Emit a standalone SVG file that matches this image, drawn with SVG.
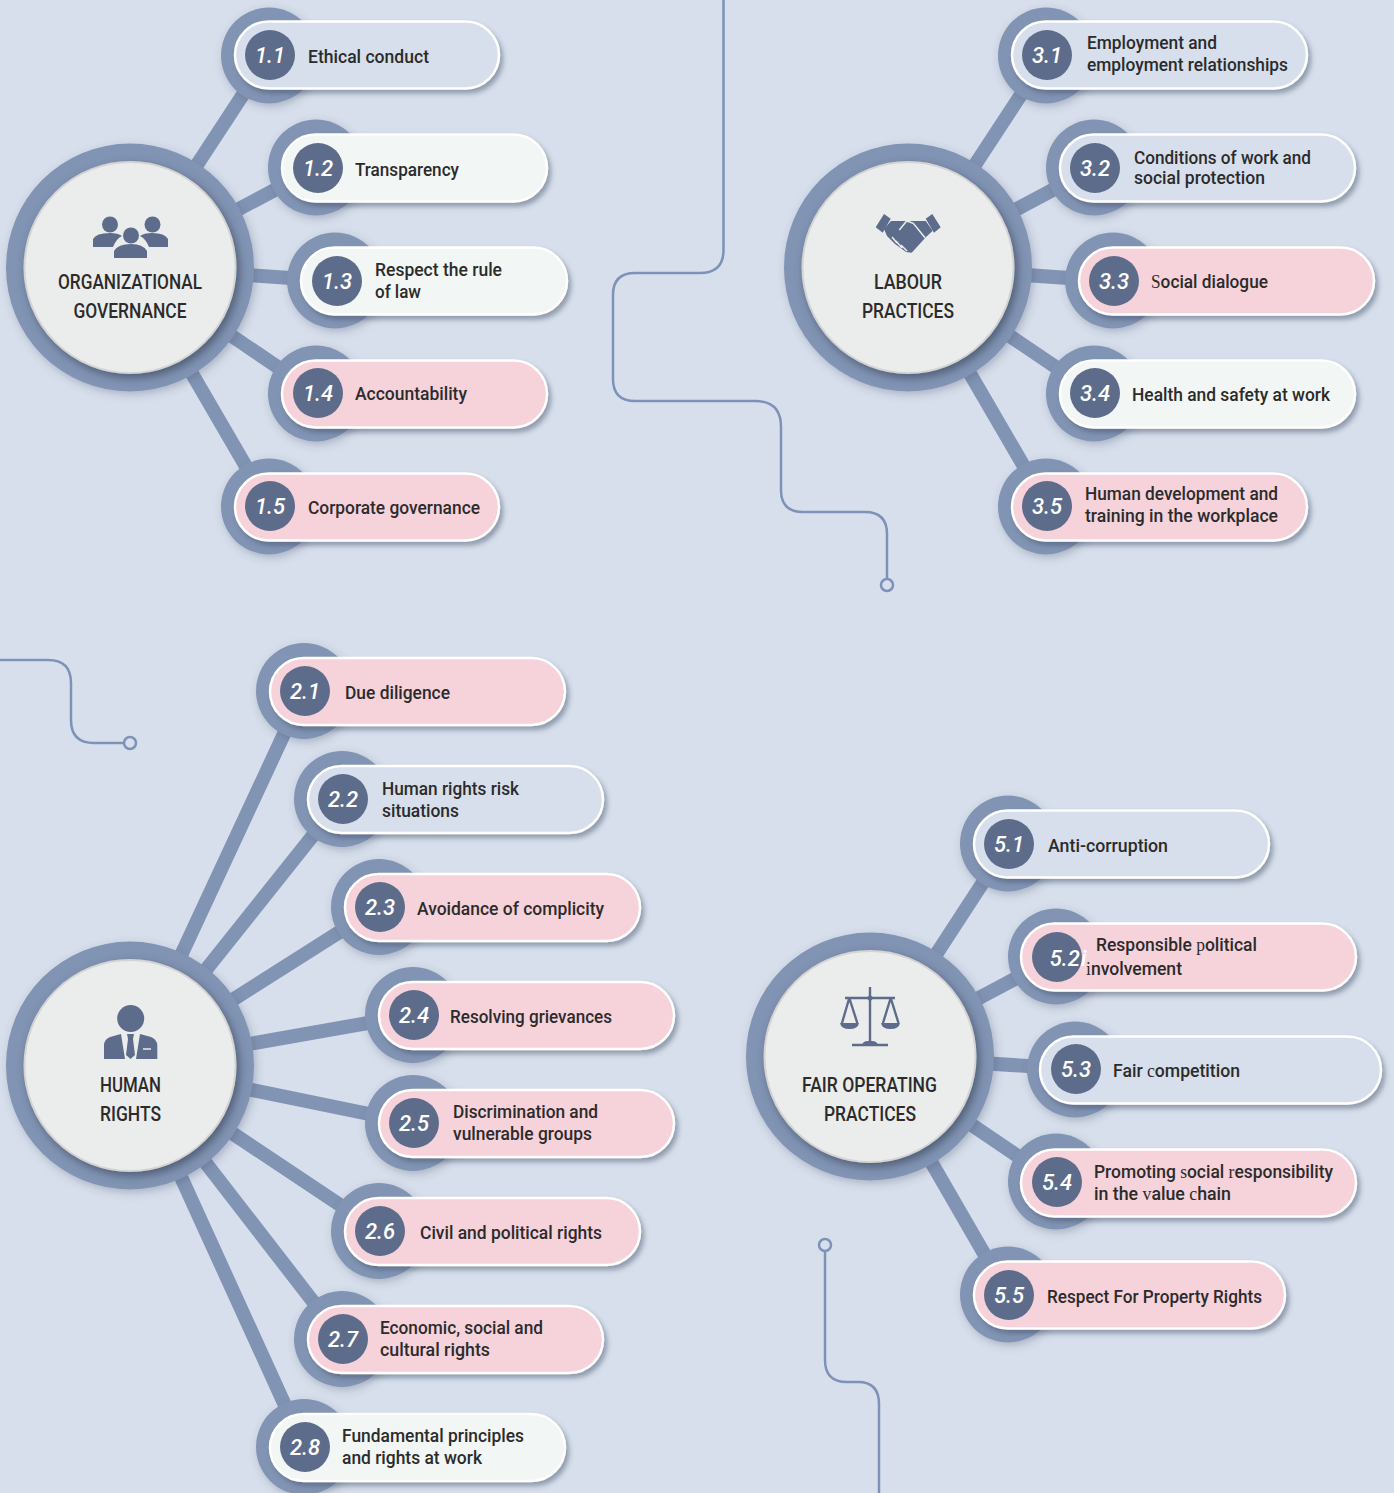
<svg xmlns="http://www.w3.org/2000/svg" width="1394" height="1493" viewBox="0 0 1394 1493">
<defs>
<filter id="sh" x="-20%" y="-30%" width="140%" height="170%"><feDropShadow dx="3" dy="4" stdDeviation="2.5" flood-color="#3e4a63" flood-opacity=".45"/></filter>
<filter id="sr" x="-30%" y="-30%" width="160%" height="160%"><feDropShadow dx="2" dy="3" stdDeviation="4" flood-color="#3e4a63" flood-opacity=".3"/></filter>
<filter id="shub" x="-20%" y="-20%" width="140%" height="140%"><feDropShadow dx="3" dy="4" stdDeviation="5" flood-color="#39445c" flood-opacity=".7"/></filter>
</defs>
<style>
.bg{fill:#d7dfec}
.spoke{stroke:#8294b4;stroke-width:14;fill:none}
.deco{stroke:#7e92b8;stroke-width:2.5;fill:none}
.end{stroke:#7e92b8;stroke-width:2.5;fill:#d7dfec}
.ring{fill:#8294b4;filter:url(#sr)}
.core{fill:#ebedec;stroke:#d4d4d4;stroke-width:2;filter:url(#shub)}
.pill{stroke:#fff;stroke-width:2.5;filter:url(#sh)}
.blue{fill:#d7dfec}.light{fill:#f2f6f5}.pink{fill:#f6d2da}
.num{fill:#5d6c8b}
.n{font:italic 500 22px Roboto,"Liberation Sans",sans-serif;fill:#fff;text-anchor:middle}
.t{font:500 18px Roboto,"Liberation Sans",sans-serif;fill:#2b2b2b}
.h{font:500 21px Roboto,"Liberation Sans",sans-serif;fill:#2b2b2b;text-anchor:middle}
.s{font-family:"Liberation Serif",serif;font-weight:400}
.ico{fill:#5d6c8b}
.il{stroke:#5d6c8b;fill:none;stroke-width:2.4}
</style>
<rect class="bg" width="1394" height="1493"/>
<g id="connectors">
<path class="spoke" d="M130 267L269 55M130 267L316 168M130 267L335 281M130 267L316 393M130 267L269 506"/>
<path class="spoke" d="M908 267L1047 55M908 267L1094 168M908 267L1113 281M908 267L1094 393M908 267L1047 506"/>
<path class="spoke" d="M130 1065L304 691M130 1065L342 799M130 1065L379 907M130 1065L413 1015M130 1065L413 1123M130 1065L379 1231M130 1065L342 1339M130 1065L304 1447"/>
<path class="spoke" d="M870 1056L1008 844M870 1056L1056 957M870 1056L1075 1069M870 1056L1056 1182M870 1056L1008 1295"/>
<path class="deco" d="M723.500 0V250Q723.500 273 700 273H635Q613 273 613 295V379Q613 401 635 401H755Q781 401 781 427V490Q781 512 803 512H865Q887 512 887 534V579"/>
<circle class="end" cx="887" cy="585" r="6"/>
<path class="deco" d="M0 660H48Q71 660 71 683V720Q71 743 94 743H124"/>
<circle class="end" cx="130" cy="743" r="6"/>
<path class="deco" d="M825 1251V1360Q825 1382 847 1382H858Q879 1382 879 1404V1493"/>
<circle class="end" cx="825" cy="1245" r="6"/>
</g>

<g id="hub-1"><circle class="ring" cx="130" cy="267.500" r="124"/><circle class="core" cx="130" cy="267.500" r="105.500"/>
<g class="ico"><circle cx="110" cy="224.500" r="8"/><circle cx="152.500" cy="224.500" r="8"/><circle cx="131" cy="235.500" r="8"/>
<path d="M93 247V239Q96 233 110 233Q118 233 122 236Q116 239 113 247ZM168 247V239Q165 233 152 233Q144 233 140 236Q146 239 149 247ZM114 258V251Q118 244 131 244Q143 244 147 251V258Z"/></g>
<text class="h" x="130" y="289" textLength="144" lengthAdjust="spacingAndGlyphs">ORGANIZATIONAL</text><text class="h" x="130" y="318" textLength="113" lengthAdjust="spacingAndGlyphs">GOVERNANCE</text></g>

<g id="node-1-1"><circle class="ring" cx="269" cy="55.500" r="48"/><rect class="pill blue" x="235" y="21.500" width="264" height="67" rx="33.500"/><circle class="num" cx="270" cy="55" r="25"/><text class="n" x="270" y="63">1.1</text><text class="t" x="308" y="63" textLength="121" lengthAdjust="spacingAndGlyphs">Ethical conduct</text></g>
<g id="node-1-2"><circle class="ring" cx="316" cy="167.500" r="48"/><rect class="pill light" x="282" y="134.500" width="265" height="67" rx="33.500"/><circle class="num" cx="318" cy="168" r="25"/><text class="n" x="318" y="176">1.2</text><text class="t" x="355" y="176" textLength="104" lengthAdjust="spacingAndGlyphs">Transparency</text></g>
<g id="node-1-3"><circle class="ring" cx="335" cy="280.500" r="48"/><rect class="pill light" x="301" y="247.500" width="266" height="67" rx="33.500"/><circle class="num" cx="337" cy="281" r="25"/><text class="n" x="337" y="289">1.3</text><text class="t" x="375" y="276" textLength="127" lengthAdjust="spacingAndGlyphs">Respect the rule</text><text class="t" x="375" y="298" textLength="46" lengthAdjust="spacingAndGlyphs">of law</text></g>
<g id="node-1-4"><circle class="ring" cx="316" cy="393.500" r="48"/><rect class="pill pink" x="282" y="360.500" width="265" height="67" rx="33.500"/><circle class="num" cx="318" cy="393" r="25"/><text class="n" x="318" y="401">1.4</text><text class="t" x="355" y="400" textLength="112" lengthAdjust="spacingAndGlyphs">Accountability</text></g>
<g id="node-1-5"><circle class="ring" cx="269" cy="506.500" r="48"/><rect class="pill pink" x="235" y="473.500" width="264" height="67" rx="33.500"/><circle class="num" cx="270" cy="506" r="25"/><text class="n" x="270" y="514">1.5</text><text class="t" x="308" y="514" textLength="172" lengthAdjust="spacingAndGlyphs">Corporate governance</text></g>

<g id="hub-3"><circle class="ring" cx="908" cy="267.500" r="124"/><circle class="core" cx="908" cy="267.500" r="105.500"/>
<g class="ico"><path d="M875.700 227.300L884 214L890.700 218.700L882.700 232.700ZM940.700 227.300L932.300 214L925.700 218.700L934 232.700Z"/>
<path d="M891 221H925.700L932.700 230.700L926 237L911.700 252.700L906 252L895 244L887 236L884 229Z"/></g>
<path d="M899.300 230L906.700 221L913.300 223.300L925 237.700M892 237L897 243M896 241L902 248M901 245L907 251" fill="none" stroke="#ebedec" stroke-width="1.500"/>
<text class="h" x="908" y="289" textLength="68" lengthAdjust="spacingAndGlyphs">LABOUR</text><text class="h" x="908" y="318" textLength="92" lengthAdjust="spacingAndGlyphs">PRACTICES</text></g>

<g id="node-3-1"><circle class="ring" cx="1046" cy="55.500" r="48"/><rect class="pill blue" x="1012" y="21.500" width="295" height="67" rx="33.500"/><circle class="num" cx="1047" cy="55" r="25"/><text class="n" x="1047" y="63">3.1</text><text class="t" x="1087" y="49" textLength="130" lengthAdjust="spacingAndGlyphs">Employment and</text><text class="t" x="1087" y="71" textLength="201" lengthAdjust="spacingAndGlyphs">employment relationships</text></g>
<g id="node-3-2"><circle class="ring" cx="1094" cy="167.500" r="48"/><rect class="pill blue" x="1060" y="134.500" width="295" height="67" rx="33.500"/><circle class="num" cx="1095" cy="168" r="25"/><text class="n" x="1095" y="176">3.2</text><text class="t" x="1134" y="164" textLength="177" lengthAdjust="spacingAndGlyphs">Conditions of work and</text><text class="t" x="1134" y="184" textLength="131" lengthAdjust="spacingAndGlyphs">social protection</text></g>
<g id="node-3-3"><circle class="ring" cx="1113" cy="280.500" r="48"/><rect class="pill pink" x="1079" y="247.500" width="295" height="67" rx="33.500"/><circle class="num" cx="1114" cy="281" r="25"/><text class="n" x="1114" y="289">3.3</text><text class="t" x="1151" y="288" textLength="117" lengthAdjust="spacingAndGlyphs"><tspan class="s">S</tspan>ocial dialogue</text></g>
<g id="node-3-4"><circle class="ring" cx="1094" cy="393.500" r="48"/><rect class="pill light" x="1060" y="360.500" width="295" height="67" rx="33.500"/><circle class="num" cx="1095" cy="393" r="25"/><text class="n" x="1095" y="401">3.4</text><text class="t" x="1132" y="401" textLength="198" lengthAdjust="spacingAndGlyphs">Health and safety at work</text></g>
<g id="node-3-5"><circle class="ring" cx="1046" cy="506.500" r="48"/><rect class="pill pink" x="1012" y="473.500" width="295" height="67" rx="33.500"/><circle class="num" cx="1047" cy="506" r="25"/><text class="n" x="1047" y="514">3.5</text><text class="t" x="1085" y="500" textLength="193" lengthAdjust="spacingAndGlyphs">Human development and</text><text class="t" x="1085" y="522" textLength="193" lengthAdjust="spacingAndGlyphs">training in the workplace</text></g>

<g id="hub-2"><circle class="ring" cx="130" cy="1065.500" r="124"/><circle class="core" cx="130" cy="1065.500" r="105.500"/>
<g class="ico"><circle cx="130.700" cy="1018.500" r="13.500"/><path d="M104 1059V1044Q105 1039 110 1037L121 1034L125 1059ZM157.300 1059V1044Q156 1039 151 1037L140 1034L136 1059Z"/><path d="M127 1034H134L133 1039L135 1055L130.500 1059L126 1055L128 1039Z"/></g>
<path d="M143 1049H151" stroke="#ebedec" stroke-width="1.500"/>
<text class="h" x="130.500" y="1092" textLength="61" lengthAdjust="spacingAndGlyphs">HUMAN</text><text class="h" x="130.500" y="1121" textLength="61" lengthAdjust="spacingAndGlyphs">RIGHTS</text></g>

<g id="node-2-1"><circle class="ring" cx="304" cy="691" r="48"/><rect class="pill pink" x="270" y="658" width="295" height="67" rx="33.500"/><circle class="num" cx="305" cy="691" r="25"/><text class="n" x="305" y="699">2.1</text><text class="t" x="345" y="699" textLength="105" lengthAdjust="spacingAndGlyphs">Due diligence</text></g>
<g id="node-2-2"><circle class="ring" cx="342" cy="799" r="48"/><rect class="pill blue" x="308" y="766" width="295" height="67" rx="33.500"/><circle class="num" cx="343" cy="799" r="25"/><text class="n" x="343" y="807">2.2</text><text class="t" x="382" y="795" textLength="137" lengthAdjust="spacingAndGlyphs">Human rights risk</text><text class="t" x="382" y="817" textLength="77" lengthAdjust="spacingAndGlyphs">situations</text></g>
<g id="node-2-3"><circle class="ring" cx="379" cy="907" r="48"/><rect class="pill pink" x="345" y="874" width="295" height="67" rx="33.500"/><circle class="num" cx="380" cy="907" r="25"/><text class="n" x="380" y="915">2.3</text><text class="t" x="417" y="915" textLength="187" lengthAdjust="spacingAndGlyphs">Avoidance of complicity</text></g>
<g id="node-2-4"><circle class="ring" cx="413" cy="1015" r="48"/><rect class="pill pink" x="379" y="982" width="295" height="67" rx="33.500"/><circle class="num" cx="414" cy="1015" r="25"/><text class="n" x="414" y="1023">2.4</text><text class="t" x="450" y="1023" textLength="162" lengthAdjust="spacingAndGlyphs">Resolving grievances</text></g>
<g id="node-2-5"><circle class="ring" cx="413" cy="1123" r="48"/><rect class="pill pink" x="379" y="1090" width="295" height="67" rx="33.500"/><circle class="num" cx="414" cy="1123" r="25"/><text class="n" x="414" y="1131">2.5</text><text class="t" x="453" y="1118" textLength="145" lengthAdjust="spacingAndGlyphs">Discrimination and</text><text class="t" x="453" y="1140" textLength="139" lengthAdjust="spacingAndGlyphs">vulnerable groups</text></g>
<g id="node-2-6"><circle class="ring" cx="379" cy="1231" r="48"/><rect class="pill pink" x="345" y="1198" width="295" height="67" rx="33.500"/><circle class="num" cx="380" cy="1231" r="25"/><text class="n" x="380" y="1239">2.6</text><text class="t" x="420" y="1239" textLength="182" lengthAdjust="spacingAndGlyphs">Civil and political rights</text></g>
<g id="node-2-7"><circle class="ring" cx="342" cy="1339" r="48"/><rect class="pill pink" x="308" y="1306" width="295" height="67" rx="33.500"/><circle class="num" cx="343" cy="1339" r="25"/><text class="n" x="343" y="1347">2.7</text><text class="t" x="380" y="1334" textLength="163" lengthAdjust="spacingAndGlyphs">Economic, social and</text><text class="t" x="380" y="1356" textLength="110" lengthAdjust="spacingAndGlyphs">cultural rights</text></g>
<g id="node-2-8"><circle class="ring" cx="304" cy="1447" r="48"/><rect class="pill light" x="270" y="1414" width="295" height="67" rx="33.500"/><circle class="num" cx="305" cy="1447" r="25"/><text class="n" x="305" y="1455">2.8</text><text class="t" x="342" y="1442" textLength="182" lengthAdjust="spacingAndGlyphs">Fundamental principles</text><text class="t" x="342" y="1464" textLength="140" lengthAdjust="spacingAndGlyphs">and rights at work</text></g>

<g id="hub-5"><circle class="ring" cx="870" cy="1056.500" r="124"/><circle class="core" cx="870" cy="1056.500" r="105.500"/>
<path class="il" d="M870 987V1045M845 998H895M852 1045H888M849.300 998L842 1023M849.300 998L857.300 1023M890.700 998L883 1023M890.700 998L898.500 1023"/>
<g class="ico"><path d="M840 1023H859Q858 1029 849.500 1029Q841 1029 840 1023ZM881 1023H900Q899 1029 890.500 1029Q882 1029 881 1023ZM862 1045Q863 1041 868 1041H872Q877 1041 878 1045Z"/><circle cx="870" cy="998" r="2.500"/></g>
<text class="h" x="869.500" y="1092" textLength="135" lengthAdjust="spacingAndGlyphs">FAIR OPERATING</text><text class="h" x="870" y="1121" textLength="92" lengthAdjust="spacingAndGlyphs">PRACTICES</text></g>

<g id="node-5-1"><circle class="ring" cx="1008" cy="843.500" r="48"/><rect class="pill blue" x="974" y="810.500" width="295" height="67" rx="33.500"/><circle class="num" cx="1009" cy="844" r="25"/><text class="n" x="1009" y="852">5.1</text><text class="t" x="1048" y="852" textLength="120" lengthAdjust="spacingAndGlyphs">Anti-corruption</text></g>
<g id="node-5-2"><circle class="ring" cx="1056" cy="956.500" r="48"/><rect class="pill pink" x="1021" y="923.500" width="335" height="67" rx="33.500"/><circle class="num" cx="1057" cy="957" r="25"/><text class="n" x="1068" y="966">5.2<tspan dx="1">i</tspan></text><text class="t" x="1096" y="951" textLength="161" lengthAdjust="spacingAndGlyphs">Responsible <tspan class="s">p</tspan>olitical</text><text class="t" x="1086" y="975" textLength="96" lengthAdjust="spacingAndGlyphs"><tspan class="s">i</tspan>nvolvement</text></g>
<g id="node-5-3"><circle class="ring" cx="1075" cy="1069.500" r="48"/><rect class="pill blue" x="1040" y="1036.500" width="341" height="67" rx="33.500"/><circle class="num" cx="1076" cy="1069" r="25"/><text class="n" x="1076" y="1077">5.3</text><text class="t" x="1113" y="1077" textLength="127" lengthAdjust="spacingAndGlyphs">Fair <tspan class="s">c</tspan>ompetition</text></g>
<g id="node-5-4"><circle class="ring" cx="1056" cy="1181.500" r="48"/><rect class="pill pink" x="1021" y="1149.500" width="335" height="67" rx="33.500"/><circle class="num" cx="1057" cy="1182" r="25"/><text class="n" x="1057" y="1190">5.4</text><text class="t" x="1094" y="1178" textLength="239" lengthAdjust="spacingAndGlyphs">Promoting <tspan class="s">s</tspan>ocial <tspan class="s">r</tspan>esponsibility</text><text class="t" x="1094" y="1200" textLength="137" lengthAdjust="spacingAndGlyphs">in the <tspan class="s">v</tspan>alue <tspan class="s">c</tspan>hain</text></g>
<g id="node-5-5"><circle class="ring" cx="1008" cy="1294.500" r="48"/><rect class="pill pink" x="974" y="1261.500" width="311" height="67" rx="33.500"/><circle class="num" cx="1009" cy="1295" r="25"/><text class="n" x="1009" y="1303">5.5</text><text class="t" x="1047" y="1303" textLength="215" lengthAdjust="spacingAndGlyphs">Respect For Property Rights</text></g>
</svg>
